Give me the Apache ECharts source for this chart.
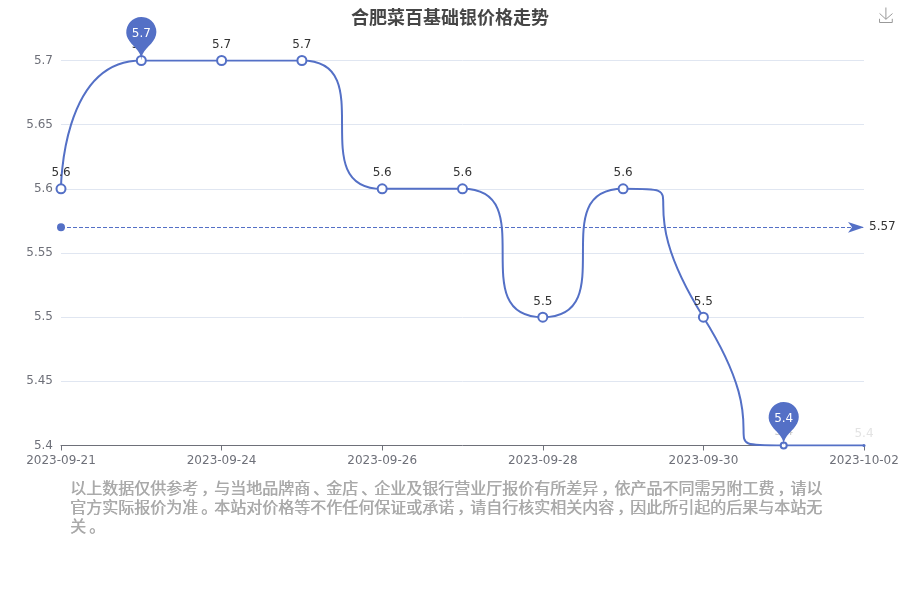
<!DOCTYPE html>
<html>
<head>
<meta charset="utf-8">
<style>
html,body{margin:0;padding:0;background:#fff;}
#c{position:absolute;left:0;top:0;width:900px;height:600px;}
#note{position:absolute;left:70px;top:478px;width:760px;font:normal 16px/19px "Noto Sans CJK SC",sans-serif;color:#aaa;text-shadow:0.5px 0 0 #aaa;}
#note span{position:relative;left:3px;}
</style>
<script src="https://cdn.jsdelivr.net/npm/echarts@6/dist/echarts.min.js"></script>
</head>
<body>
<div id="c"></div>
<div id="note"></div>
<script>
const titleText = '合肥菜百基础银价格走势';
const noteText = '以上数据仅供参考，与当地品牌商、金店、企业及银行营业厅报价有所差异，依产品不同需另附工费，请以官方实际报价为准。本站对价格等不作任何保证或承诺，请自行核实相关内容，因此所引起的后果与本站无关。';
const dates = ['2023-09-21','2023-09-23','2023-09-24','2023-09-25','2023-09-26','2023-09-27','2023-09-28','2023-09-29','2023-09-30','2023-10-01','2023-10-02'];
const prices = [5.6,5.7,5.7,5.7,5.6,5.6,5.5,5.6,5.5,5.4,5.4];
const yTicks = [5.4,5.45,5.5,5.55,5.6,5.65,5.7];

document.getElementById('note').innerHTML = noteText.replace(/[，、。]/g, '<span>$&</span>');
const last = prices.length - 1;
const chart = echarts.init(document.getElementById('c'), null, {renderer:'canvas'});
chart.setOption({
  animation:false,
  textStyle:{fontFamily:'"DejaVu Sans",sans-serif'},
  title:{text:titleText,left:'center',top:3,textStyle:{fontSize:18,fontWeight:'bold',color:'#464646',fontFamily:'"Noto Sans CJK SC",sans-serif'}},
  toolbox:{right:-10,top:-10,showTitle:false,iconStyle:{borderColor:'#999'},feature:{saveAsImage:{}}},
  grid:{left:61,right:36,top:60.5,bottom:154.5,outerBoundsMode:'none'},
  xAxis:{type:'category',boundaryGap:false,data:dates,axisLabel:{interval:1,margin:9,fontSize:12,color:'#6e7079',showMaxLabel:true},axisTick:{interval:1,alignWithLabel:true},axisLine:{lineStyle:{color:'#6e7079'}}},
  yAxis:{type:'value',min:yTicks[0],max:yTicks[yTicks.length-1],interval:0.05,axisLine:{show:false},axisTick:{show:false},axisLabel:{fontSize:12,color:'#6e7079'},splitLine:{lineStyle:{color:'#e0e6f1'}}},
  series:[{
    type:'line',smooth:1,
    symbol:'emptyCircle',
    symbolSize:(v,p)=>p.dataIndex===last?3:(p.dataIndex===last-1?6:9),
    lineStyle:{width:2,color:'#5470c6'},
    itemStyle:{color:'#5470c6',borderWidth:2},
    label:{show:true,position:'top',distance:4,fontSize:12,color:'#333'},
    data:prices.map((v,i)=>i===last?{value:v,symbol:'circle',label:{color:'#e3e3e3'}}:(i===last-1?{value:v,label:{color:'#ccc'}}:v)),
    markPoint:{data:[{type:'max'},{type:'min'}],label:{color:'#fff',fontSize:12},itemStyle:{color:'#5470c6'}},
    markLine:{data:[{type:'average'}],precision:2,lineStyle:{color:'#5470c6',type:'dashed',width:1},label:{color:'#333',fontSize:12}}
  }]
});
</script>
</body>
</html>
